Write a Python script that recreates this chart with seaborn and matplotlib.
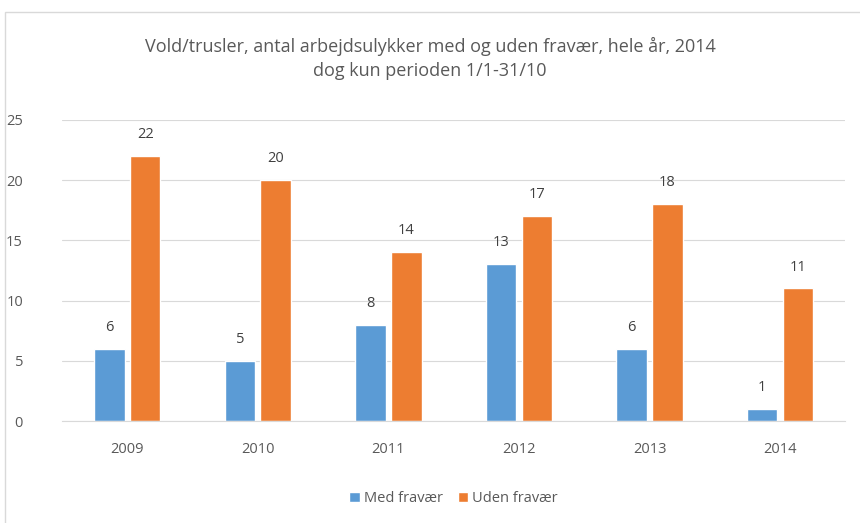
import pandas as pd
import matplotlib.pyplot as plt
import seaborn as sb
from matplotlib.patches import Rectangle

years = ['2009', '2010', '2011', '2012', '2013', '2014']
med_fravaer = [6, 5, 8, 13, 6, 1]
uden_fravaer = [22, 20, 14, 17, 18, 11]
series_names = ['Med fravær', 'Uden fravær']

data = pd.DataFrame({
    'aar': years * 2,
    'antal': med_fravaer + uden_fravaer,
    'type': [series_names[0]] * len(years) + [series_names[1]] * len(years),
})

sb.set_style('white')
plt.rcParams['font.family'] = ['Open Sans', 'DejaVu Sans']
grey = '#595959'

fig = plt.figure(figsize=(8.6, 5.23), dpi=100)
ax = fig.add_axes([0.072, 0.195, 0.911, 0.576])

sb.barplot(data=data, x='aar', y='antal', hue='type', ax=ax,
           palette=['#5B9BD5', '#ED7D31'], width=0.55, gap=0.15,
           saturation=1, legend=True)

for c in ax.containers:
    ax.bar_label(c, padding=10, fontsize=10.5, color='#404040')

ax.set_ylim(0, 25)
ax.set_yticks(range(0, 26, 5))
ax.yaxis.grid(True, color='#d9d9d9', linewidth=0.8)
ax.set_axisbelow(True)
for s in ['top', 'right', 'left']:
    ax.spines[s].set_visible(False)
ax.spines['bottom'].set_color('#d9d9d9')
ax.tick_params(axis='both', length=0, labelsize=10.5, colors=grey)
ax.tick_params(axis='x', pad=15)
ax.tick_params(axis='y', pad=28)
ax.set_xlabel('')
ax.set_ylabel('')

ax.legend(loc='upper center', bbox_to_anchor=(0.5, -0.19), ncol=2, frameon=False,
          fontsize=10.5, labelcolor=grey, handlelength=0.7, handleheight=0.7,
          handletextpad=0.3, columnspacing=1.0)

fig.text(0.5, 0.888, 'Vold/trusler, antal arbejdsulykker med og uden fravær, hele år, 2014\ndog kun perioden 1/1-31/10',
         ha='center', va='center', fontsize=13, color=grey, linespacing=1.45)

fig.patches.append(Rectangle((0.006, -0.01), 1.0, 0.987, transform=fig.transFigure,
                             fill=False, edgecolor='#d9d9d9', linewidth=1))

plt.savefig('out.png', dpi=100)
